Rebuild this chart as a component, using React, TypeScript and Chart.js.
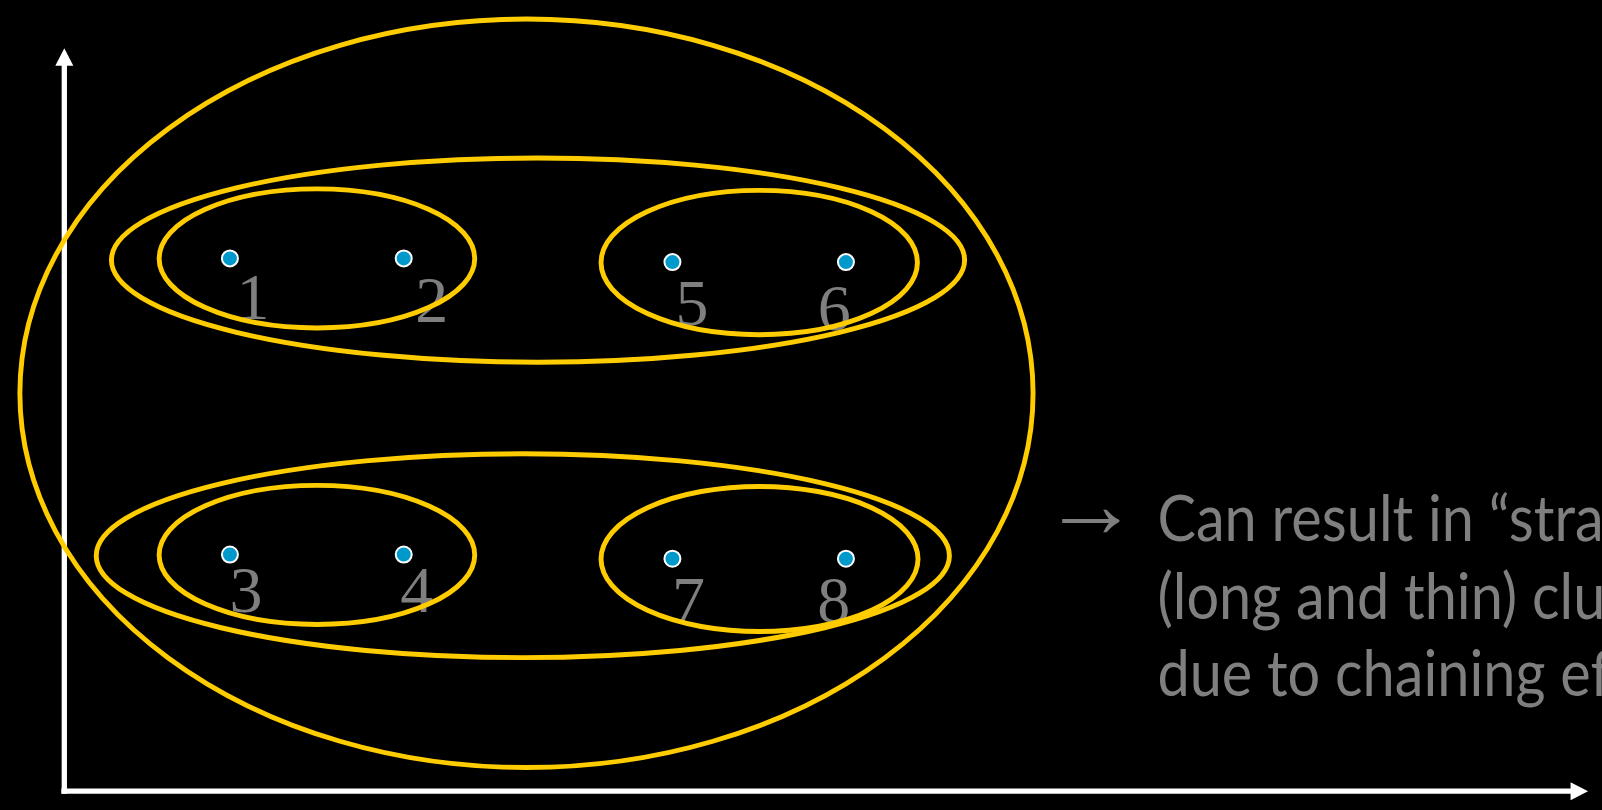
import React, { useEffect, useRef } from "react";
import { Chart, registerables } from "chart.js";

Chart.register(...registerables);

// ---- data (data units; origin at the axes' corner) ----
const pointLabels = ["1", "2", "3", "4", "5", "6", "7", "8"];
const pointX = [16.77, 34.37, 16.77, 34.37, 61.58, 79.15, 61.58, 79.15];
const pointY = [54.63, 54.63, 24.27, 24.27, 54.25, 54.25, 23.84, 23.84];
const labelX = [19.1, 37.2, 18.4, 35.7, 63.55, 77.96, 63.2, 77.92];
const labelY = [48.43, 48.1, 18.37, 18.37, 47.85, 47.33, 17.4, 17.3];

// clusters drawn as ellipses: centre x, centre y, radius x, radius y
const clusterCx = [46.8, 47.97, 46.43, 25.58, 70.37, 25.58, 70.4];
const clusterCy = [40.8, 54.46, 24.15, 54.63, 54.21, 24.23, 23.81];
const clusterRx = [51.3, 43.2, 43.2, 15.98, 16.02, 15.98, 16.05];
const clusterRy = [38.37, 10.47, 10.45, 7.13, 7.4, 7.13, 7.44];

// axis extents
const xAxisEnd = 154.3;
const yAxisEnd = 76.17;
const axisStart = -0.3;

const noteArrow = "\u2192";
const noteLines = [
  "Can result in \u201Cstraggly\u201D",
  "(long and thin) clusters",
  "due to chaining effect",
];

const X_MIN = -5.5;
const X_MAX = 154.7;
const Y_MIN = -0.9;
const Y_MAX = 80.1;

const decorPlugin = {
  id: "decor",
  beforeDatasetsDraw(chart: any) {
    const { ctx } = chart;
    const xs = chart.scales.x;
    const ys = chart.scales.y;
    const ox = xs.getPixelForValue(0);
    const oy = ys.getPixelForValue(0);
    ctx.save();
    ctx.fillStyle = "#ffffff";
    ctx.strokeStyle = "#ffffff";
    ctx.lineWidth = 5.3;
    // y axis
    const yTip = ys.getPixelForValue(yAxisEnd);
    ctx.beginPath();
    ctx.moveTo(ox, oy + 2.6);
    ctx.lineTo(ox, yTip + 16);
    ctx.stroke();
    ctx.beginPath();
    ctx.moveTo(ox, yTip);
    ctx.lineTo(ox - 9, yTip + 17.5);
    ctx.lineTo(ox + 9, yTip + 17.5);
    ctx.closePath();
    ctx.fill();
    // x axis
    const xTip = xs.getPixelForValue(xAxisEnd);
    const xStart = xs.getPixelForValue(axisStart);
    ctx.beginPath();
    ctx.moveTo(xStart, oy);
    ctx.lineTo(xTip - 16, oy);
    ctx.stroke();
    ctx.beginPath();
    ctx.moveTo(xTip, oy);
    ctx.lineTo(xTip - 17.5, oy - 9);
    ctx.lineTo(xTip - 17.5, oy + 9);
    ctx.closePath();
    ctx.fill();

    // point labels
    ctx.fillStyle = "#7f7f7f";
    ctx.font = "66px 'Liberation Serif', 'Times New Roman', serif";
    ctx.textAlign = "center";
    ctx.textBaseline = "alphabetic";
    pointLabels.forEach((t, i) => {
      ctx.fillText(t, xs.getPixelForValue(labelX[i]), ys.getPixelForValue(labelY[i]));
    });
    ctx.restore();
  },
  afterDatasetsDraw(chart: any) {
    const { ctx } = chart;
    const xs = chart.scales.x;
    const ys = chart.scales.y;
    ctx.save();
    ctx.strokeStyle = "#ffcc00";
    ctx.lineWidth = 4.9;
    clusterCx.forEach((cx, i) => {
      const px = xs.getPixelForValue(cx);
      const py = ys.getPixelForValue(clusterCy[i]);
      const rx = Math.abs(xs.getPixelForValue(cx + clusterRx[i]) - px);
      const ry = Math.abs(ys.getPixelForValue(clusterCy[i] + clusterRy[i]) - py);
      ctx.beginPath();
      ctx.ellipse(px, py, rx, ry, 0, 0, Math.PI * 2);
      ctx.stroke();
    });
    ctx.restore();
  },
  afterDraw(chart: any) {
    const { ctx } = chart;
    ctx.save();
    ctx.fillStyle = "#7f7f7f";
    // arrow glyph, sized to its width in the reference
    ctx.font = "60px 'Liberation Serif', serif";
    ctx.textAlign = "left";
    ctx.textBaseline = "alphabetic";
    let m = ctx.measureText(noteArrow);
    const aw = (m.actualBoundingBoxRight + m.actualBoundingBoxLeft) || m.width;
    const size = Math.max(20, Math.min(140, (60 * 58) / aw));
    ctx.font = `${size}px 'Liberation Serif', serif`;
    m = ctx.measureText(noteArrow);
    const asc = m.actualBoundingBoxAscent;
    const desc = m.actualBoundingBoxDescent;
    const left = m.actualBoundingBoxLeft || 0;
    ctx.fillText(noteArrow, 1061.4 + left, 521.4 + (asc - desc) / 2);

    // note text
    ctx.font = "63px Lato, 'Open Sans', sans-serif";
    const w = ctx.measureText("Can result in").width;
    const sx = 316.6 / w;
    const baselines = [541.4, 618.7, 696.0];
    noteLines.forEach((line, i) => {
      ctx.save();
      ctx.translate(1157.4, baselines[i]);
      ctx.scale(sx, 1);
      ctx.fillText(line, 0, 0);
      ctx.restore();
    });
    ctx.restore();
  },
};

export default function App() {
  const ref = useRef<HTMLCanvasElement | null>(null);
  useEffect(() => {
    document.body.style.margin = "0";
    document.body.style.background = "#000";
    const canvas = ref.current;
    if (!canvas) return;
    const chart = new Chart(canvas, {
      type: "scatter",
      data: {
        datasets: [
          {
            data: pointX.map((x, i) => ({ x, y: pointY[i] })),
            backgroundColor: "#0099cc",
            borderColor: "#ffffff",
            borderWidth: 2,
            pointRadius: 8,
            pointHoverRadius: 8,
          },
        ],
      },
      options: {
        animation: false,
        responsive: false,
        maintainAspectRatio: false,
        layout: { padding: 0 },
        plugins: { legend: { display: false }, tooltip: { enabled: false } },
        events: [],
        scales: {
          x: { type: "linear", min: X_MIN, max: X_MAX, display: false },
          y: { type: "linear", min: Y_MIN, max: Y_MAX, display: false },
        },
      },
      plugins: [decorPlugin],
    });
    return () => chart.destroy();
  }, []);
  return (
    <div style={{ position: "fixed", left: 0, top: 0, width: 1602, height: 810, background: "#000" }}>
      <canvas ref={ref} width={1602} height={810} style={{ display: "block", width: 1602, height: 810 }} />
    </div>
  );
}
